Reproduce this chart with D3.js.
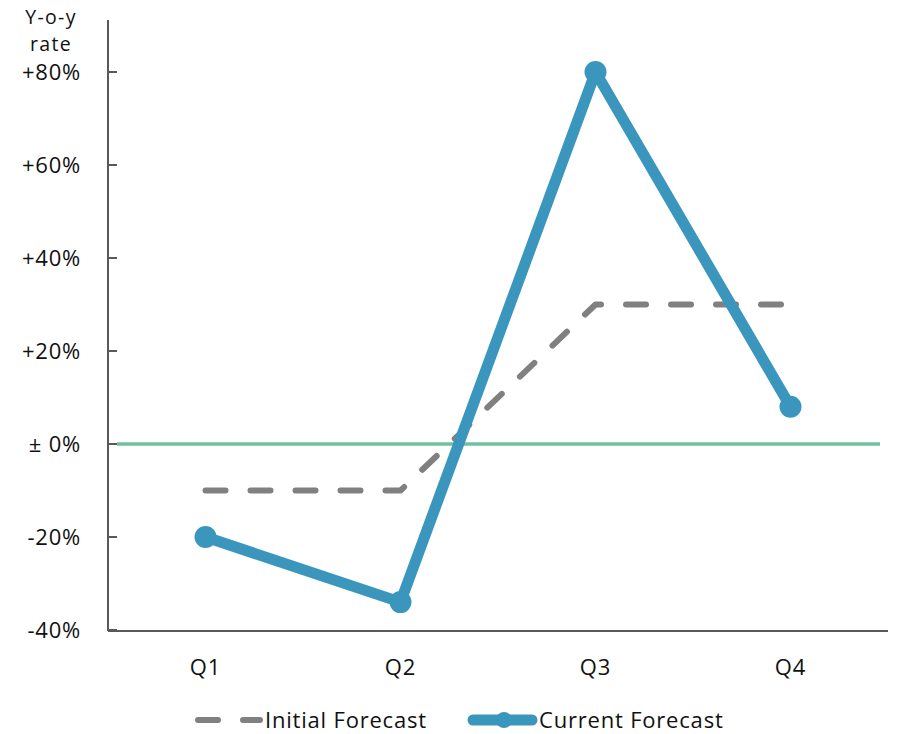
<!DOCTYPE html>
<html>
<head>
<meta charset="utf-8">
<script src="https://cdn.jsdelivr.net/npm/d3@7"></script>
<style>
  body { margin: 0; background: #fff; }
  text { font-family: "Open Sans", "Noto Sans", sans-serif; fill: #111; letter-spacing: 0.8px; }
  text.ytitle { letter-spacing: 1.3px; }
</style>
</head>
<body>
<svg id="chart" width="906" height="734"></svg>
<script>
// Quarterly year-on-year rates (%)
const quarters = ["Q1", "Q2", "Q3", "Q4"];
const initialForecast = [-10, -10, 30, 30];
const currentForecast = [-20, -34, 80, 8];
const yTicks = [-40, -20, 0, 20, 40, 60, 80];
const yTickLabels = ["-40%", "-20%", "\u00b1 0%", "+20%", "+40%", "+60%", "+80%"];
const yTitleLines = ["Y-o-y", "rate"];
const legendLabels = ["Initial Forecast", "Current Forecast"];

(function draw() {
  const svg = d3.select("#chart");
  const plotLeft = 108, plotRight = 888, plotBottom = 631;
  const fs = 22;

  const x = d3.scaleBand().domain(quarters).range([plotLeft, plotRight]).padding(0);
  const y = d3.scaleLinear().domain([-40, 80]).range([630, 72]);
  const cx = q => x(q) + x.bandwidth() / 2;

  // Axis lines
  svg.append("line").attr("x1", plotLeft).attr("x2", plotLeft).attr("y1", 20).attr("y2", plotBottom)
    .attr("stroke", "#595959").attr("stroke-width", 2);
  svg.append("line").attr("x1", plotLeft).attr("x2", plotRight).attr("y1", plotBottom).attr("y2", plotBottom)
    .attr("stroke", "#595959").attr("stroke-width", 2);

  // Y ticks (pointing into the plot) and labels
  const yAxis = svg.append("g");
  yAxis.selectAll("line").data(yTicks).join("line")
    .attr("x1", plotLeft).attr("x2", plotLeft + 9)
    .attr("y1", d => y(d)).attr("y2", d => y(d))
    .attr("stroke", "#595959").attr("stroke-width", 2);
  yAxis.selectAll("text").data(yTicks).join("text")
    .attr("x", 81).attr("y", d => y(d)).attr("dy", "0.36em")
    .attr("text-anchor", "end").attr("font-size", fs)
    .text((d, i) => yTickLabels[i]);

  // Axis title (two lines)
  svg.selectAll("text.ytitle").data(yTitleLines).join("text").attr("class", "ytitle")
    .attr("text-anchor", "middle").attr("font-size", 19.5)
    .attr("x", 51).attr("y", (d, i) => 24 + i * 26.5).text(d => d);

  // X labels
  svg.selectAll("text.xl").data(quarters).join("text").attr("class", "xl")
    .attr("x", d => cx(d)).attr("y", 675).attr("text-anchor", "middle")
    .attr("font-size", fs).text(d => d);

  // Zero reference line
  svg.append("line").attr("x1", plotLeft + 9).attr("x2", 880)
    .attr("y1", y(0)).attr("y2", y(0))
    .attr("stroke", "#72bfa0").attr("stroke-width", 3.5);

  const line = d3.line().x((d, i) => cx(quarters[i])).y(d => y(d));

  // Initial forecast (dashed)
  svg.append("path").datum(initialForecast).attr("d", line)
    .attr("fill", "none").attr("stroke", "#808080").attr("stroke-width", 6)
    .attr("stroke-dasharray", "20,25").attr("stroke-linecap", "round")
    .attr("stroke-linejoin", "round");

  // Current forecast
  const blue = "#3a96bd";
  svg.append("path").datum(currentForecast).attr("d", line)
    .attr("fill", "none").attr("stroke", blue).attr("stroke-width", 11)
    .attr("stroke-linejoin", "round");
  svg.selectAll("circle.pt").data(currentForecast).join("circle").attr("class", "pt")
    .attr("cx", (d, i) => cx(quarters[i])).attr("cy", d => y(d)).attr("r", 11)
    .attr("fill", blue);

  // Legend
  const ly = 720;
  svg.append("line").attr("x1", 198).attr("x2", 260).attr("y1", ly).attr("y2", ly)
    .attr("stroke", "#808080").attr("stroke-width", 6)
    .attr("stroke-dasharray", "20,25").attr("stroke-linecap", "round");
  svg.append("text").attr("x", 265).attr("y", ly).attr("dy", "0.36em")
    .attr("font-size", fs).text(legendLabels[0]);
  svg.append("line").attr("x1", 473).attr("x2", 532).attr("y1", ly).attr("y2", ly)
    .attr("stroke", blue).attr("stroke-width", 11).attr("stroke-linecap", "round");
  svg.append("circle").attr("cx", 504).attr("cy", ly).attr("r", 8).attr("fill", blue);
  svg.append("text").attr("x", 539).attr("y", ly).attr("dy", "0.36em")
    .attr("font-size", fs).text(legendLabels[1]);
})();
</script>
</body>
</html>
